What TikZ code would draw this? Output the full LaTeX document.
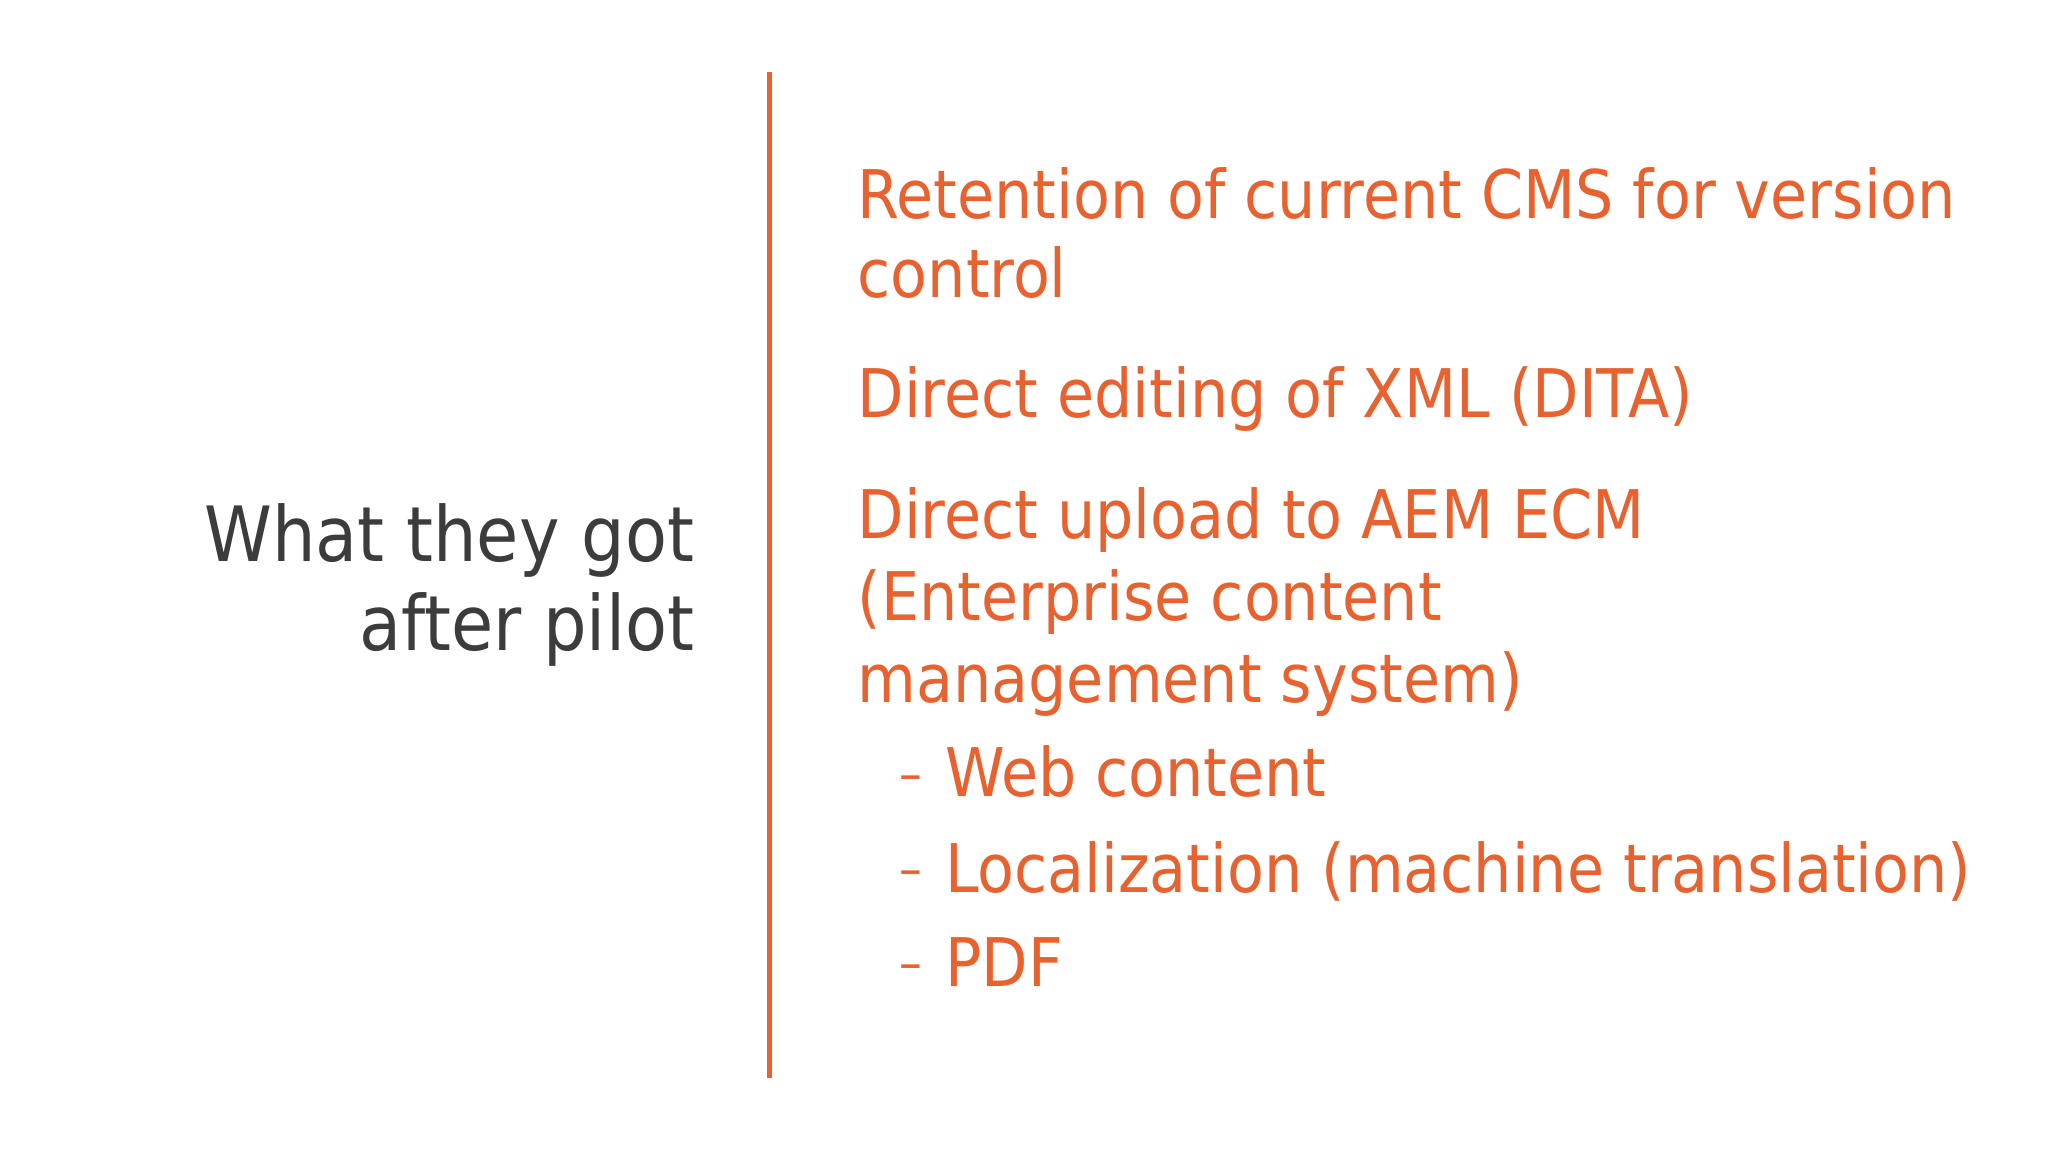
\documentclass[tikz,border=0pt]{standalone}
\usepackage{fontspec}
\setmainfont{DejaVu Sans Condensed}
\definecolor{org}{HTML}{E8622F}
\definecolor{gry}{HTML}{3C3C3C}
\begin{document}
\begin{tikzpicture}[x=0.01cm,y=-0.01cm,
  rt/.style={anchor=base west,inner sep=0,text=org,font=\fontsize{14.6}{17}\selectfont},
  lt/.style={anchor=base east,inner sep=0,text=gry,font=\fontsize{16.6}{20}\selectfont}]
\fill[white] (0,0) rectangle (1568,882);
\coordinate (top) at (589,55);
\coordinate (bot) at (589,825);
\draw[org,line width=1.2pt] (top) -- (bot);
\node[lt] (l1) at (532,430) {What they got};
\node[lt] (l2) at (532,498) {after pilot};
\node[rt] (a1) at (656,167) {Retention of current CMS for version};
\node[rt] (a2) at (656,228) {control};
\node[rt] (b1) at (656,320) {Direct editing of XML (DITA)};
\node[rt] (c1) at (656,412) {Direct upload to AEM ECM};
\node[rt] (c2) at (656,475) {(Enterprise content};
\node[rt] (c3) at (656,538) {management system)};
\node[rt] (d1) at (723,610) {Web content};
\node[rt] (d2) at (723,683) {Localization (machine translation)};
\node[rt] (d3) at (723,755) {PDF};
\foreach \y in {600,673,745} \node[anchor=center,inner sep=0,text=org,font=\fontsize{11}{12}\selectfont] at (697,\y) {–};
\end{tikzpicture}
\end{document}
